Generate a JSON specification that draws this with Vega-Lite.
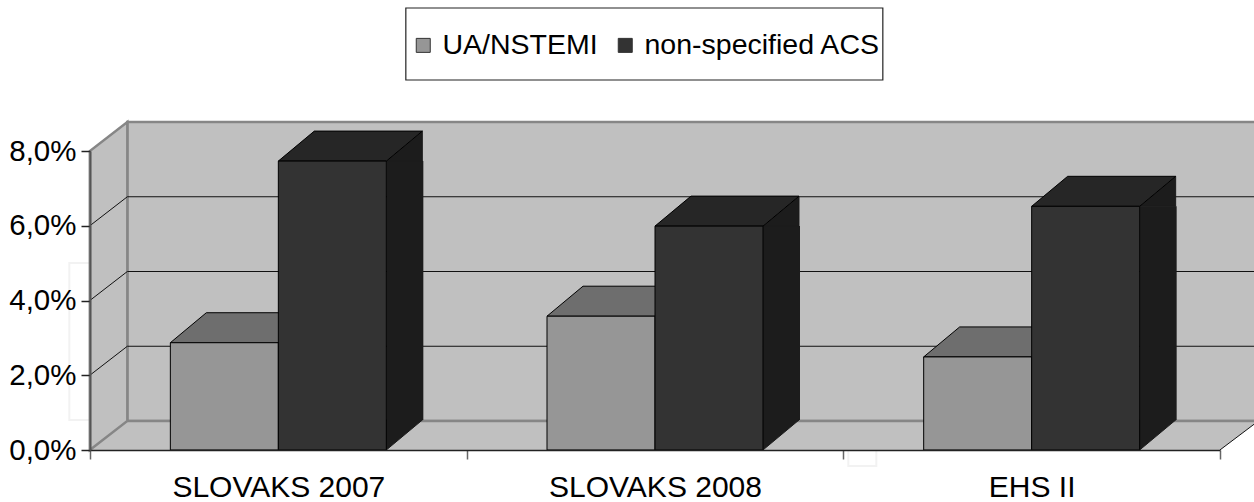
{
"$schema":"https://vega.github.io/schema/vega-lite/v6.json",
"width":1130,"height":299,"autosize":"none",
"padding":{"left":90,"top":151,"right":34,"bottom":52},
"background":"white",
"config":{"view":{"stroke":null},"font":"Liberation Sans"},
"datasets":{"bars":[
{"study":"SLOVAKS 2007","series":"UA/NSTEMI","value":2.87},
{"study":"SLOVAKS 2007","series":"non-specified ACS","value":7.73},
{"study":"SLOVAKS 2008","series":"UA/NSTEMI","value":3.58},
{"study":"SLOVAKS 2008","series":"non-specified ACS","value":5.99},
{"study":"EHS II","series":"UA/NSTEMI","value":2.49},
{"study":"EHS II","series":"non-specified ACS","value":6.52}],
"anchor":[{"anchor":"frame"}],
"grid":[{"tick":2},{"tick":4},{"tick":6}]},
"layer":[
{"data":{"name":"anchor"},"mark":{"type":"point","shape":"M-188 0 L-188 -30 L-209 -30 L-209 -187 L-188 -187","size":4,"filled":false,"stroke":"#f2f2f2","strokeWidth":2,"opacity":1},
 "encoding":{"x":{"datum":"SLOVAKS 2007"},"y":{"datum":0}}},
{"data":{"name":"anchor"},"mark":{"type":"point","shape":"M570 0 L570 16 L598 16 L598 0","size":4,"filled":false,"stroke":"#f2f2f2","strokeWidth":2,"opacity":1},
 "encoding":{"x":{"datum":"SLOVAKS 2007"},"y":{"datum":0}}},
{"data":{"name":"anchor"},"mark":{"type":"point","shape":"M-151 -29 L982 -29 L982 -328 L-151 -328 Z","size":4,"filled":true,"fill":"#c0c0c0","stroke":"#868686","strokeWidth":2.5,"opacity":1},
 "encoding":{"x":{"datum":"SLOVAKS 2007"},"y":{"datum":0}}},
{"data":{"name":"anchor"},"mark":{"type":"point","shape":"M-188.5 0 L-151 -29 L980 -29 L941.6 0 Z","size":4,"filled":true,"fill":"#c0c0c0","opacity":1},
 "encoding":{"x":{"datum":"SLOVAKS 2007"},"y":{"datum":0}}},
{"data":{"name":"anchor"},"mark":{"type":"point","shape":"M-151 -29 L982 -29","size":4,"filled":false,"stroke":"#868686","strokeWidth":2.5,"opacity":1},
 "encoding":{"x":{"datum":"SLOVAKS 2007"},"y":{"datum":0}}},
{"data":{"name":"anchor"},"mark":{"type":"point","shape":"M941.6 0 L980 -29","size":4,"filled":false,"stroke":"#111111","strokeWidth":1,"opacity":1},
 "encoding":{"x":{"datum":"SLOVAKS 2007"},"y":{"datum":0}}},
{"data":{"name":"anchor"},"mark":{"type":"point","shape":"M-188.5 0 L-151 -29 L-151 -328 L-188.5 -299 Z","size":4,"filled":true,"fill":"#c0c0c0","stroke":"#868686","strokeWidth":2.5,"opacity":1},
 "encoding":{"x":{"datum":"SLOVAKS 2007"},"y":{"datum":0}}},
{"data":{"name":"grid"},"mark":{"type":"point","shape":"M-188.5 0 L-151 -29 L982 -29","size":4,"filled":false,"stroke":"#111111","strokeWidth":1,"opacity":1},
 "encoding":{"x":{"datum":"SLOVAKS 2007"},"y":{"field":"tick","type":"quantitative"}}},
{"data":{"name":"bars"},"transform":[{"filter":"datum.series!=='UA/NSTEMI'"}],"mark":{"type":"bar","width":37,"xOffset":126.5,"y2Offset":-30,"fill":"#1c1c1c"},
 "encoding":{"x":{"field":"study","type":"nominal"},"y":{"field":"value","type":"quantitative"},"y2":{"datum":0}}},
{"data":{"name":"bars"},"mark":{"type":"point","shape":"M54 0 L90 -30 L90 0 Z","size":4,"filled":true,"fill":"#1c1c1c","stroke":"#1c1c1c","strokeWidth":1,"opacity":1},
 "encoding":{"x":{"field":"study","type":"nominal"},"xOffset":{"field":"series","type":"nominal"},"y":{"field":"value","type":"quantitative"}}},
{"data":{"name":"bars"},"mark":{"type":"point","shape":"M54 0 L54 -30 L90 -30 Z","size":4,"filled":true,"fill":"#1c1c1c","stroke":"#1c1c1c","strokeWidth":1,"opacity":1},
 "encoding":{"x":{"field":"study","type":"nominal"},"xOffset":{"field":"series","type":"nominal"},"y":{"datum":0}}},
{"data":{"name":"bars"},"mark":{"type":"point","shape":"M-54 0 L54 0 L90 -30 L-18 -30 Z","size":4,"filled":true,"stroke":"#000000","strokeWidth":1,"opacity":1},
 "encoding":{"x":{"field":"study","type":"nominal"},"xOffset":{"field":"series","type":"nominal"},"y":{"field":"value","type":"quantitative"},
 "fill":{"condition":{"test":"datum.series==='UA/NSTEMI'","value":"#6e6e6e"},"value":"#262626"}}},
{"data":{"name":"bars"},"mark":{"type":"bar","stroke":"#000000","strokeWidth":1},
 "encoding":{
 "x":{"field":"study","type":"nominal","sort":null,"scale":{"type":"band","domain":["SLOVAKS 2007","SLOVAKS 2008","EHS II"],"paddingInner":0,"paddingOuter":0},
  "axis":{"title":null,"labelAngle":0,"labelAlign":"center","labelBaseline":"top","labelLimit":400,"labelFontSize":30,"labelColor":"#000000","tickBand":"extent","tickSize":9,"tickColor":"#666666","tickWidth":1.5,"domainColor":"#222222","domainWidth":1.5,"labelPadding":13,"zindex":1}},
 "xOffset":{"field":"series","type":"nominal","sort":null,"scale":{"domain":["UA/NSTEMI","non-specified ACS"],"paddingInner":0,"paddingOuter":0.744}},
 "y":{"field":"value","type":"quantitative","scale":{"domain":[0,8],"nice":false},
  "axis":{"title":null,"grid":false,"values":[0,2,4,6,8],"labelExpr":"replace(format(datum.value,'.1f'),'.',',')+'%'","labelFontSize":29.5,"labelColor":"#000000","tickSize":9,"tickColor":"#222222","tickWidth":1.5,"domainColor":"#555555","domainWidth":2,"labelPadding":5,"zindex":1}},
 "y2":{"datum":0},
 "fill":{"field":"series","type":"nominal","sort":null,"scale":{"domain":["UA/NSTEMI","non-specified ACS"],"range":["#969696","#333333"]},
  "legend":{"title":null,"orient":"none","legendX":309,"legendY":-130,"direction":"horizontal","columns":2,"padding":10,"symbolType":"square","symbolSize":196,"symbolStrokeColor":"#333333","symbolStrokeWidth":1,"symbolOpacity":1,"labelFontSize":28.5,"labelColor":"#000000","labelLimit":400,"columnPadding":13,"labelOffset":5}}}},
{"data":{"name":"anchor"},"mark":{"type":"point","shape":"M127.5 -442 L604.5 -442 L604.5 -370 L127.5 -370 Z","size":4,"filled":true,"fill":"white","stroke":"#222222","strokeWidth":1.2,"opacity":1},
 "encoding":{"x":{"datum":"SLOVAKS 2007"},"y":{"datum":0}}}
]}
